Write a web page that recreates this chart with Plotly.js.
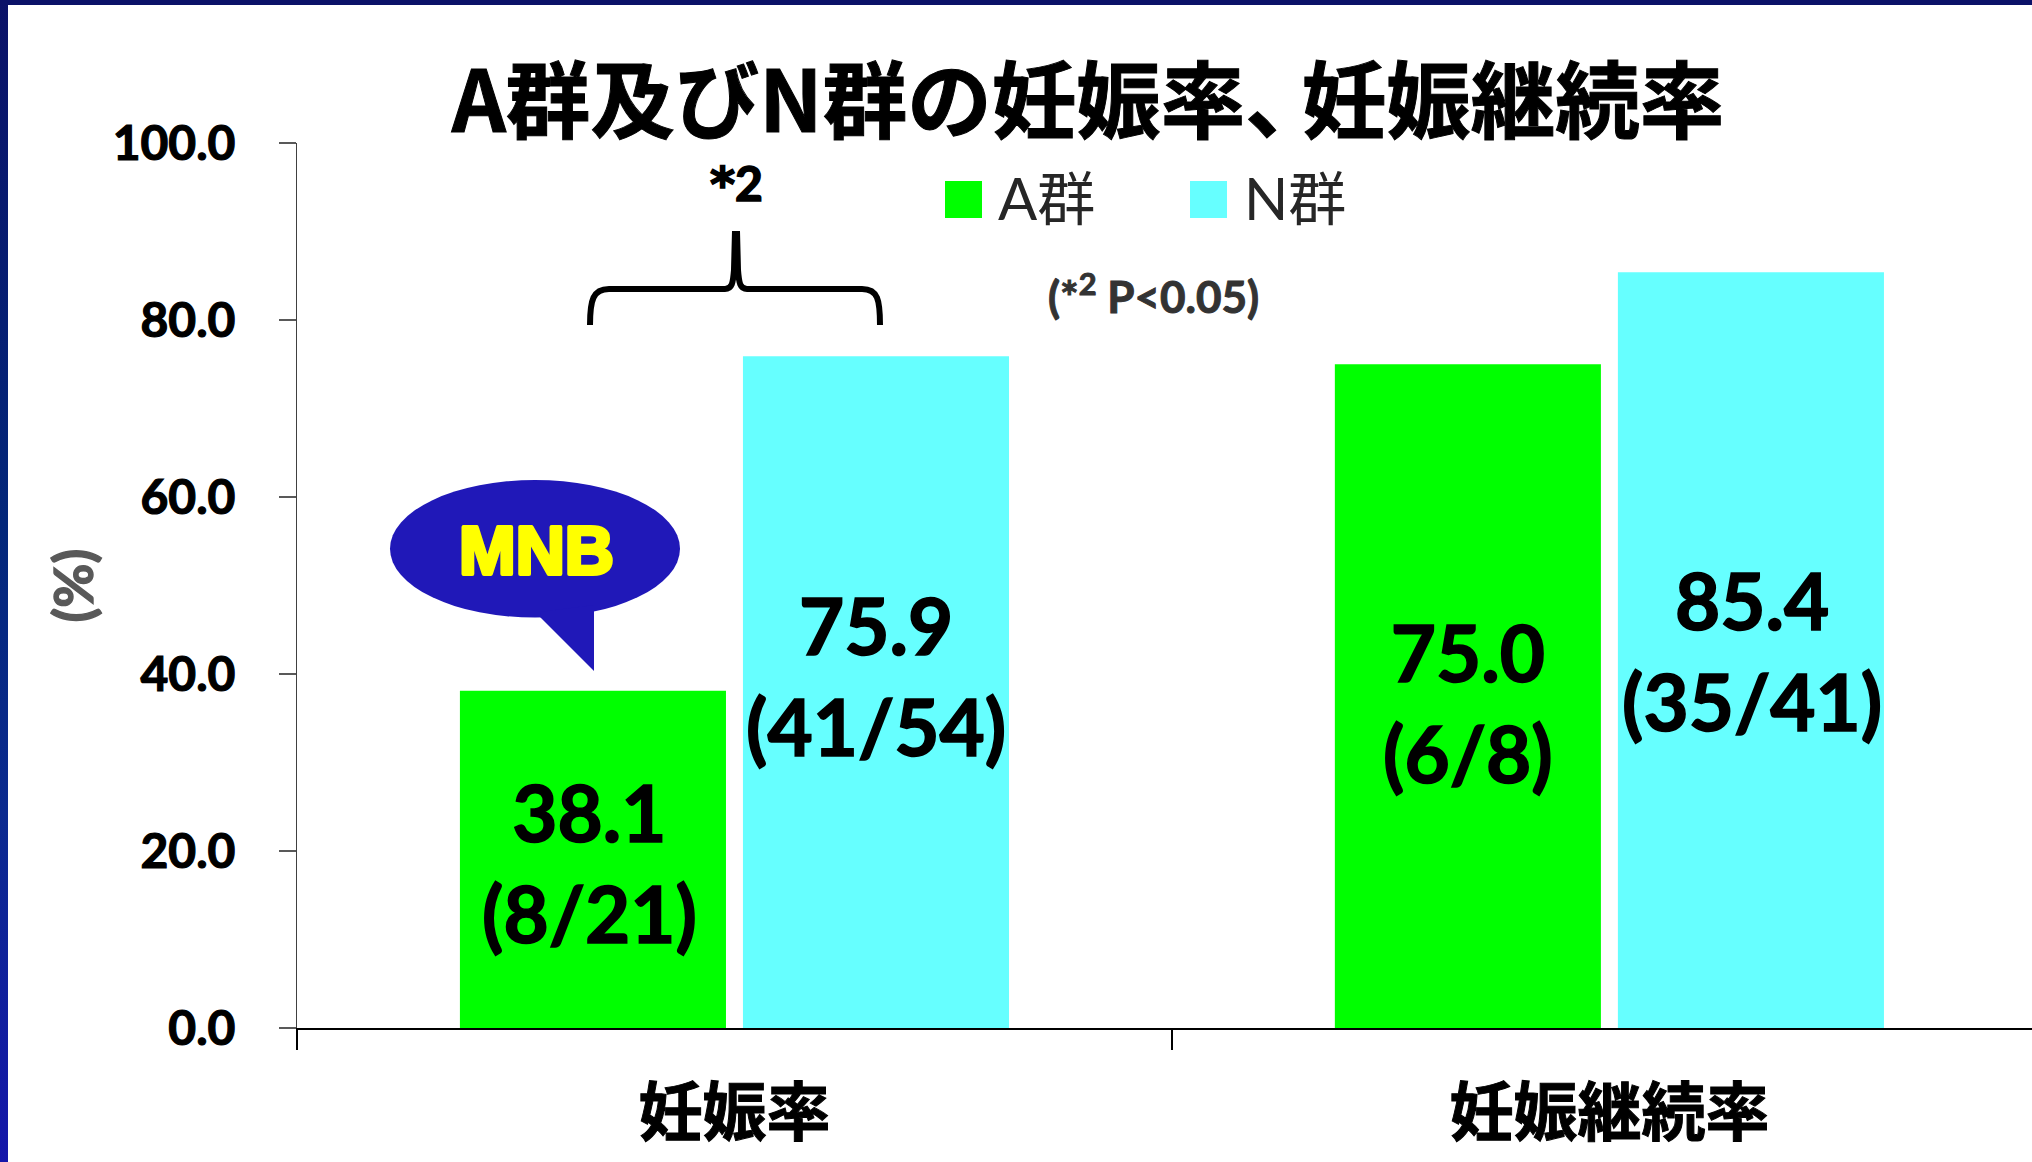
<!DOCTYPE html>
<html lang="ja">
<head>
<meta charset="utf-8">
<script src="https://cdn.plot.ly/plotly-3.0.1.min.js"></script>
<style>
  html, body { margin: 0; padding: 0; width: 2032px; height: 1162px; overflow: hidden; background: #fff; }
  #frame-top { position: absolute; left: 0; top: 0; width: 2032px; height: 5px; background: #0b1268; }
  #frame-left { position: absolute; left: 0; top: 0; width: 8px; height: 1162px;
                background: linear-gradient(#0b1268 0%, #03277a 45%, #0b2a8f 70%, #1516aa 100%); }
  #chart { position: absolute; left: 0; top: 0; width: 2032px; height: 1162px; }
  /* heavier strokes for the display text */
  g.annotation[data-index="0"] text { stroke: #ffff00; stroke-width: 4px; stroke-linejoin: round; }
  g.annotation[data-index="1"] text, g.annotation[data-index="5"] text, g.annotation[data-index="6"] text,
  g.annotation[data-index="7"] text, g.annotation[data-index="8"] text { stroke: #000; stroke-width: 1.6px; }
  g.annotation[data-index="2"] text { stroke: #333; stroke-width: 1px; }
  .xtick text { stroke: #000; stroke-width: 1px; }
  .ytick text { stroke: #000; stroke-width: 1.2px; }
  .gtitle { stroke: #000; stroke-width: 1px; }
  .ytitle { stroke: #595959; stroke-width: 1.4px; }
</style>
</head>
<body>
<div id="frame-top"></div>
<div id="frame-left"></div>
<div id="chart"></div>
<script>
// Pregnancy and ongoing-pregnancy rates by group
const categories = ['妊娠率', '妊娠継続率'];
const groupNames = ['A群', 'N群'];
const groupA = [38.1, 75.0];
const groupN = [75.9, 85.4];
const groupACounts = ['8/21', '6/8'];
const groupNCounts = ['41/54', '35/41'];
const yTicks = [0, 20, 40, 60, 80, 100];

const GREEN = '#00ff00', CYAN = '#66ffff', BUBBLE = '#2018b8';
const W = 2032, H = 1162;
const M = { l: 297, r: 0, t: 143, b: 134 };
const CJK = '"Noto Sans CJK JP", sans-serif';
const LATIN = 'Lato, "Noto Sans CJK JP", sans-serif';

// Convert page pixels to plot-area paper fractions for overlays
const px = x => (x - M.l) / (W - M.l - M.r);
const py = y => 1 - (y - M.t) / (H - M.t - M.b);
const path = s => s.replace(/(-?[\d.]+) (-?[\d.]+)/g, (_, x, y) => `${px(+x).toFixed(5)},${py(+y).toFixed(5)}`);
const label = (text, x, y, size, color, opts = {}) => Object.assign({
  text, xref: 'paper', yref: 'paper', x: px(x), y: py(y),
  xanchor: 'center', yanchor: 'middle', showarrow: false,
  font: { family: LATIN, size, color, weight: 700 }
}, opts);

const barLabel = (value, count) => `${value.toFixed(1)}<br>(${count})`;

const traces = [
  { type: 'bar', name: groupNames[0], x: categories, y: groupA, marker: { color: GREEN, line: { width: 0 } } },
  { type: 'bar', name: groupNames[1], x: categories, y: groupN, marker: { color: CYAN, line: { width: 0 } } }
];

const shapes = [
  // speech bubble
  { type: 'circle', xref: 'paper', yref: 'paper', x0: px(390), x1: px(680), y0: py(617.5), y1: py(480),
    fillcolor: BUBBLE, line: { width: 0 } },
  { type: 'path', xref: 'paper', yref: 'paper', path: path('M 540 612 L 540 617 L 594 671 L 594 605 Z'),
    fillcolor: BUBBLE, line: { width: 0 } },
  // significance brace
  { type: 'path', xref: 'paper', yref: 'paper',
    path: path('M 590 325 C 590 300 593 289 609 289 L 725 289 C 732 289 733 283 734 270 L 735 231 M 737 231 L 738 270 C 739 283 740 289 747 289 L 862 289 C 878 289 880 300 880 325'),
    line: { color: '#000', width: 6 } },
  // legend swatches
  { type: 'rect', xref: 'paper', yref: 'paper', x0: px(945), x1: px(982), y0: py(218), y1: py(181),
    fillcolor: GREEN, line: { width: 0 } },
  { type: 'rect', xref: 'paper', yref: 'paper', x0: px(1190), x1: px(1227), y0: py(218), y1: py(181),
    fillcolor: CYAN, line: { width: 0 } }
];

const legendFont = { family: LATIN, size: 58, color: '#262626', weight: 400 };
const annotations = [
  label('MNB', 536, 550, 68, '#ffff00', { font: { family: '"Liberation Sans", sans-serif', size: 68, color: '#ffff00', weight: 700 } }),
  label('<span style="font-family:DejaVu Sans">*</span>2', 736, 183, 48, '#000'),
  label('(*<sup>2</sup> P&lt;0.05)', 1153, 293, 44, '#333333'),
  label(groupNames[0], 1046, 197, 58, '#262626', { font: legendFont }),
  label(groupNames[1], 1295, 197, 58, '#262626', { font: legendFont }),
  label(barLabel(groupA[0], groupACounts[0]), 589, 862, 78, '#000'),
  label(barLabel(groupN[0], groupNCounts[0]), 876, 675, 78, '#000'),
  label(barLabel(groupA[1], groupACounts[1]), 1468, 702, 78, '#000'),
  label(barLabel(groupN[1], groupNCounts[1]), 1752, 650, 78, '#000')
];

const layout = {
  width: W, height: H,
  margin: M,
  paper_bgcolor: 'rgba(0,0,0,0)', plot_bgcolor: 'rgba(0,0,0,0)',
  showlegend: false, hovermode: false,
  barmode: 'group', bargap: 0.353, bargroupgap: 0.06,
  title: {
    text: 'A群及びN群の妊娠率<span style="letter-spacing:-0.33em">、</span>妊娠継続率',
    x: 1088 / W, xref: 'container', xanchor: 'center',
    y: 1 - 102 / H, yref: 'container', yanchor: 'middle',
    font: { family: CJK, size: 84.5, color: '#000', weight: 700 }
  },
  xaxis: {
    type: 'category', range: [-0.5, 1.483], fixedrange: true,
    tickson: 'boundaries', ticks: 'outside', ticklen: 20, tickwidth: 1.5, tickcolor: '#000',
    ticklabelstandoff: 28,
    showline: true, linecolor: '#000', linewidth: 2,
    showgrid: false, zeroline: false,
    tickfont: { family: CJK, size: 64, color: '#000', weight: 700 }
  },
  yaxis: {
    range: [0, 100], fixedrange: true,
    tickmode: 'array', tickvals: yTicks, ticktext: yTicks.map(v => v.toFixed(1)),
    ticks: 'outside', ticklen: 17, tickwidth: 1.5, tickcolor: '#595959',
    ticklabelstandoff: 34,
    showline: true, linecolor: '#404040', linewidth: 1,
    showgrid: false, zeroline: false,
    tickfont: { family: LATIN, size: 48, color: '#000', weight: 700 },
    title: { text: '(%)', standoff: 1, font: { family: LATIN, size: 54, color: '#595959', weight: 700 } }
  },
  shapes, annotations
};

Plotly.newPlot('chart', traces, layout, { displayModeBar: false, staticPlot: true });
</script>
</body>
</html>
